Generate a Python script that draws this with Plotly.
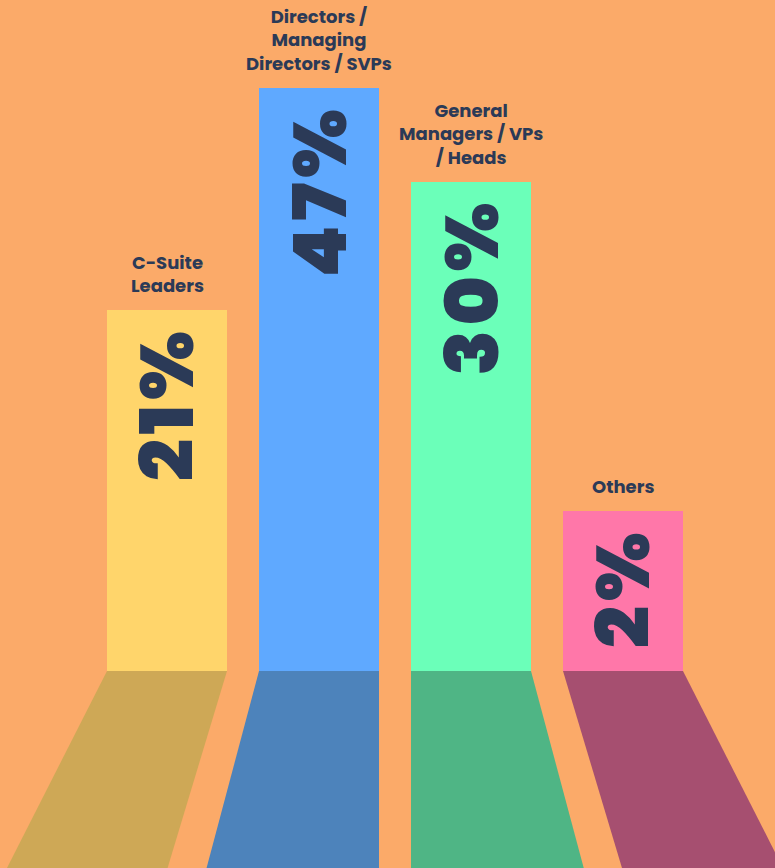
import plotly.graph_objects as go

# ---- data ----
categories = ["C-Suite<br>Leaders", "Directors /<br>Managing<br>Directors / SVPs",
              "General<br>Managers / VPs<br>/ Heads", "Others"]
values = [21, 47, 30, 2]                 # percentages shown
bar_heights = [36.1, 58.3, 48.9, 16.0]    # visual bar heights (as drawn)
bar_colors = ["#FFD56B", "#5FA9FF", "#6BFFB9", "#FF77A9"]
shadow_colors = ["#CEA856", "#4D83BB", "#4FB585", "#A64F70"]

BG = "#FBAA69"
INK = "#2B3A57"
BAR_W = 120 / 152
Y_MIN, Y_MAX = -19.7, 67.1
shadow_offsets = [(-0.658, -0.391), (-0.345, 0.0), (0.0, 0.347), (0.388, 0.658)]
HAIR = "\u200a"

xs = list(range(len(values)))
fig = go.Figure()

# shadows
for i, x in enumerate(xs):
    l, r = x - BAR_W / 2, x + BAR_W / 2
    dl, dr = shadow_offsets[i]
    fig.add_trace(go.Scatter(
        x=[l, r, r + dr, l + dl, l],
        y=[0, 0, Y_MIN, Y_MIN, 0],
        fill="toself", fillcolor=shadow_colors[i], mode="lines",
        line=dict(width=0, color=shadow_colors[i]), hoverinfo="skip", showlegend=False))

fig.add_trace(go.Bar(x=xs, y=bar_heights, width=BAR_W,
                     marker=dict(color=bar_colors, line=dict(width=0)),
                     hoverinfo="skip", showlegend=False))

for i, x in enumerate(xs):
    fig.add_annotation(x=x, y=bar_heights[i], text=f"<b>{categories[i]}</b>",
                       showarrow=False, xanchor="center", yanchor="bottom", yshift=10,
                       font=dict(family="Poppins, Inter, sans-serif", size=18, color=INK),
                       align="center")
    pct = HAIR.join(list(f"{values[i]}%"))
    fig.add_annotation(x=x, y=bar_heights[i], text=pct,
                       showarrow=False, xanchor="center", yanchor="top", yshift=-19,
                       textangle=-90,
                       font=dict(family="Poppins, Inter, sans-serif", size=74, color=INK,
                                 weight=900))

fig.update_layout(
    width=775, height=868, margin=dict(l=0, r=0, t=0, b=0),
    paper_bgcolor=BG, plot_bgcolor=BG,
    xaxis=dict(range=[-167 / 152, 608 / 152], visible=False, fixedrange=True),
    yaxis=dict(range=[Y_MIN, Y_MAX], visible=False, fixedrange=True),
    bargap=0,
)
fig.write_html("out.html", config={"displayModeBar": False},
               post_script="document.body.style.margin='0';document.body.style.padding='0';")
